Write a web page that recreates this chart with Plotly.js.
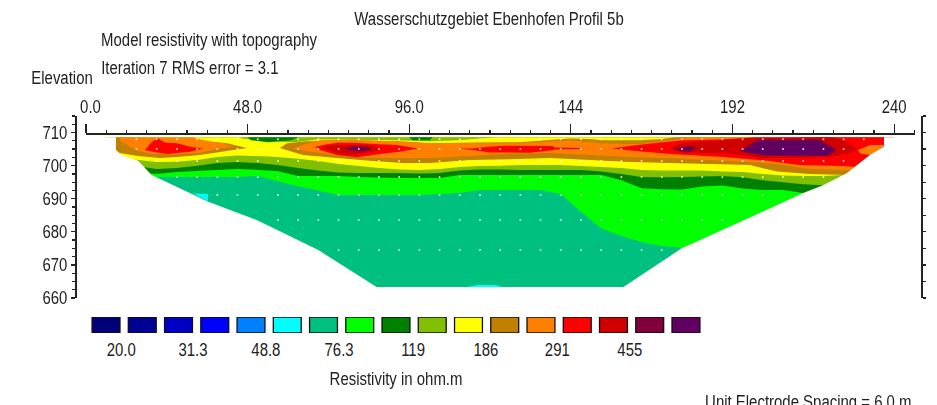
<!DOCTYPE html>
<html><head><meta charset="utf-8">
<script src="https://cdn.plot.ly/plotly-3.0.1.min.js"></script>
<style>html,body{margin:0;padding:0;background:#fff;overflow:hidden}#c{width:937px;height:405px}</style>
</head><body><div id="c"></div>
<script>
var FONT='"Liberation Sans",sans-serif';
var FSIZE=18;
// distance along the line (m)
var stationX=[6,9,15,21,27,33,39,45,51,57,63,69,75,81,87,93,99,105,111,117,123,129,135,141,147,153,159,165,171,177,183,189,195,201,207,213,219,225,231,237,240];
// elevation (m) of each resistivity boundary at those stations
var tealTop=[696.9,696.9,696.9,696.6,696.6,696.6,696.6,696.6,696.9,695.3,693.8,692.5,691.1,691.1,691.1,691.1,691.1,691.4,691.7,692.6,692.6,692.6,692.6,691.4,686.1,681.1,678.7,676.9,675.7,675.1,662.4,662.4,662.4,662.4,662.4,662.4,662.4,662.4,662.4,662.4,662.4];
var greenTop=[698.1,698.1,698.1,697.5,698.1,698.4,698.7,699,698.7,698.3,696.9,696.9,696.9,696.6,696.4,696.3,696.3,696.3,697.2,697.2,697.2,697.2,697.2,697.2,697.2,697.2,695.6,693.2,692.9,692.8,693.7,694,693.1,692.6,692.6,691.7,691.1,689.6,688.1,688.1,688.1];
var darkGreenTop=[700.2,700.2,699.9,699,699.3,700,700.8,701.1,700.8,700.2,699.3,698.5,697.9,697.8,697.8,697.8,697.6,697.8,698.5,698.8,698.8,698.7,698.7,698.7,698.7,698.2,697.5,696.6,696.5,696.6,696.7,696.9,696.5,695.6,695,694.4,694.1,692.6,691.1,689.6,689.6];
var oliveTop=[702.3,702.3,701.8,701.1,701.2,701.7,702.6,703.1,702.9,702.6,702.1,701.4,700.5,699.9,699.3,698.8,698.7,699,699.6,699.9,700,700.2,700.2,700.2,699.9,699.6,699.3,698.7,698.5,698.5,698.5,698.2,698.1,697.5,697,696.9,696.9,697.2,695.6,694.1,694.1];
// closed resistivity zones
var nearSurfaceOliveX=[46,63,88,110,122,110,102,93,69,62,54,46];
var nearSurfaceOliveY=[708.6,708.6,708.6,708.6,708.6,707.7,707.4,707.7,708,707.1,707.4,708.2];
var nearSurfaceDarkX=[48,63,61,54,49];
var nearSurfaceDarkY=[708.6,708.6,707.7,707.1,707.7];
var nearSurfaceDark2X=[96,103,102,97];
var nearSurfaceDark2Y=[708.6,708.6,707.7,707.7];
var brownWestX=[6,6,10.1,15.4,22,27,33.9,39.8,47.8,41.9,36.8,33,9];
var brownWestY=[708.6,703.8,703.8,702.9,702.3,702.6,703.2,704.1,705.3,706.8,707.2,708,708.6];
var orangeWestX=[10.1,31.8,34.7,39.8,43.7,39.8,33.9,27,19.9,15.4,13.1,10.1];
var orangeWestY=[708.6,708.6,707.7,706.9,705.7,705.2,703.9,703.5,703.5,704.4,705.6,707.7];
var redWestX=[17.5,19.6,21.4,23.5,27,30.9,34.7,30.9,24.1,19.9];
var redWestY=[704.7,707.2,708.3,706.9,706.8,705.7,705.2,704.2,703.5,704.2];
var brownMainX=[57.6,64.4,74.5,84.3,94.1,102.2,114,125.9,137.8,149.7,161.6,173.4,197.2,205.2,215,226,237.3,240,240,195.7,175,170.5,164.5,152.7,150.6,143.7,128.9,117,102.2,93.3,74.5,65.6,59.7];
var brownMainY=[705.3,703.2,702.3,701.5,700.8,700.8,701.7,701.9,702.3,701.7,701.1,700.8,700.2,698.2,697.5,697.2,697.2,697.2,708.6,708.6,708.6,708,707.7,707.7,708,708.2,707.1,707,706.8,707.4,707.7,707.4,706.8];
var orangeMainX=[61.2,66.5,74.5,84.3,94.1,102.2,114,125.9,137.8,149.7,161.6,173.4,185.3,197.2,205.2,215,226,237.3,240,240,179.4,173.4,164.5,152.7,143.7,128.9,117,102.2,79.3,69.5,64.4];
var orangeMainY=[705.2,704.2,703.2,702.4,702.3,702.3,702.9,703.7,703.8,703.2,702.6,702.3,701.7,701.1,700.5,699,698.7,698.7,698.7,708.6,708.5,707.7,706.5,706.8,707.6,706.8,706.8,706.8,707.9,707.7,706.2];
var redMidX=[68,70.4,74.5,79.3,87.3,92.4,98.6,93.3,87.3,80.5,74.5,69.5];
var redMidY=[705.6,706.2,706.9,706.9,706.5,706.2,705.2,704.2,703.5,702.5,703.2,704.7];
var darkRedMidX=[70.4,74.5,83.5,88.2,83.5,77.5,73.4];
var darkRedMidY=[705.6,706.2,706.2,705.2,703.9,703.2,704.2];
var maroonMidX=[76.9,79.3,83.5,84.9,82.3,78.4];
var maroonMidY=[705.2,705.9,705.7,705,704.3,704.5];
var purpleMidX=[78.4,80.8,82.9,80.8];
var purpleMidY=[705.2,705.5,705,704.6];
var redCentreX=[111.1,114.9,119.4,123.8,138.7,139,146.7,146.7,139,139,131.9,120,114.9,111.1];
var redCentreY=[705.2,705.2,705.7,706,705.9,705.5,705.3,705,704.9,704.7,703.9,704,704.7,705.1];
var redEastX=[156.2,162.5,170.5,177.3,188.3,194.2,198.7,240,240,229,224.8,212,202.3,189.2,173.4,162.5];
var redEastY=[705.2,706.1,707,707.7,707.9,708.3,708.6,708.6,697,699.6,699.9,700.2,701.5,702.6,703.5,704.5];
var orangeEastX=[229.3,232.9,240,240,232.9,229.9];
var orangeEastY=[704.7,706.2,706.2,705,703.2,703.7];
var darkRedEastX=[173.4,177.3,181.5,189.2,195.1,217.1,221.9,226,229,226.9,221.9,212,200.2,195.1,189.2,177.3];
var darkRedEastY=[705.5,706.8,707.2,707.7,708.2,708.6,708.6,707.2,704.7,703.8,702.7,702.3,702.3,703.2,703.8,703.9];
var maroonEastX=[194.2,199.3,218,223,220.4,201.7];
var maroonEastY=[704.3,707.9,707.9,704.7,702.9,702.9];
var maroonSmallX=[174.3,179.4,181.5,179.4,175.5];
var maroonSmallY=[705,705.9,705.3,704.1,704.4];
var purpleEastX=[195.1,200.2,217.1,222.5,220.1,202.3];
var purpleEastY=[704.2,707.7,707.7,704.7,703.2,703.2];
var purpleSmallX=[176.4,178.2,180.3,178.2];
var purpleSmallY=[705.2,705.7,705.3,704.6];
var cyanWestX=[31.8,36.2,36.2,33.9];
var cyanWestY=[691.6,691.4,689.3,690.5];
var cyanBottomX=[113.2,116.1,121.5,123.8];
var cyanBottomY=[663.3,663.9,663.9,663.3];
// outline of the modelled section
var sectionX=[5,8.9,8.9,10.6,15.5,19.5,36.3,50.7,69,86.3,159.6,176.9,182.4,213,218.9,225.9,232.8,237,237,241,241,5];
var sectionY=[708.6,708.6,704.7,703.2,701.5,697.2,689.1,683.6,674.5,663.3,663.3,675,677.5,691.7,694.1,697.7,703.2,705.7,708.6,708.6,660.3,660.3];
// model block centres
var blockX=[9,15,21,27,33,39,45,51,57,63,69,75,81,87,93,99,105,111,117,123,129,135,141,147,153,159,165,171,177,183,189,195,201,207,213,219,225,231];
var blockRowElev=[708,705,701.4,696.6,691.1,683.6,674.5];
var blockRowFirst=[15,15,21,27,39,57,75];
var blockRowLast=[231,225,225,219,201,189,171];
// colour scale
var legendIndex=[0,1,2,3,4,5,6,7,8,9,10,11,12,13,14,15,16];
var legendColors=['#00007a','#000094','#0000c4','#0000ff','#0080ff','#00ffff','#00c080','#00ff00','#008000','#80c000','#ffff00','#c08000','#ff8000','#ff0000','#d00000','#80003c','#600060'];
var legendLabelPos=[0.42,2.4,4.41,6.43,8.47,10.48,12.45,14.45];
var legendLabels=['20.0','31.3','48.8','76.3','119','186','291','455'];
// axis ticks
var xTickVals=[0,48,96,144,192,240];
var xTickText=['0.0','48.0','96.0','144','192','240'];
var yTickVals=[660,670,680,690,700,710];
var surfaceElev=708.6;

var C={teal:'#00c080',green:'#00ff00',dark:'#008000',olive:'#80c000',yellow:'#ffff00',brown:'#c08000',orange:'#ff8000',red:'#ff0000',dred:'#d00000',maroon:'#80003c',purple:'#600060',cyan:'#00ffff'};
function poly(x,y,color){return {type:'scatter',mode:'none',fill:'toself',fillcolor:color,x:x,y:y,hoverinfo:'skip',showlegend:false};}
function band(elev,color){
  return poly(stationX.concat([240,6]),elev.concat([surfaceElev,surfaceElev]),color);
}
var traces=[
  poly([6,240,240,6],[662,662,surfaceElev,surfaceElev],C.teal),
  band(tealTop,C.green),
  band(greenTop,C.dark),
  band(darkGreenTop,C.olive),
  band(oliveTop,C.yellow),
  poly(nearSurfaceOliveX,nearSurfaceOliveY,C.olive),
  poly(nearSurfaceDarkX,nearSurfaceDarkY,C.dark),
  poly(nearSurfaceDark2X,nearSurfaceDark2Y,C.dark),
  poly(brownWestX,brownWestY,C.brown),
  poly(orangeWestX,orangeWestY,C.orange),
  poly(redWestX,redWestY,C.red),
  poly(brownMainX,brownMainY,C.brown),
  poly(orangeMainX,orangeMainY,C.orange),
  poly(redMidX,redMidY,C.red),
  poly(darkRedMidX,darkRedMidY,C.dred),
  poly(maroonMidX,maroonMidY,C.maroon),
  poly(purpleMidX,purpleMidY,C.purple),
  poly(redCentreX,redCentreY,C.red),
  poly(redEastX,redEastY,C.red),
  poly(orangeEastX,orangeEastY,C.orange),
  poly(darkRedEastX,darkRedEastY,C.dred),
  poly(maroonEastX,maroonEastY,C.maroon),
  poly(maroonSmallX,maroonSmallY,C.maroon),
  poly(purpleEastX,purpleEastY,C.purple),
  poly(purpleSmallX,purpleSmallY,C.purple),
  poly(cyanWestX,cyanWestY,C.cyan),
  poly(cyanBottomX,cyanBottomY,C.cyan),
  poly(sectionX,sectionY,'#ffffff')
];
var dotX=[],dotY=[];
blockRowElev.forEach(function(e,r){
  blockX.forEach(function(x){
    if(x>=blockRowFirst[r]&&x<=blockRowLast[r]){dotX.push(x);dotY.push(e);}
  });
});
traces.push({type:'scatter',mode:'markers',x:dotX,y:dotY,marker:{color:'#ffffff',size:2},opacity:0.8,hoverinfo:'skip',showlegend:false});
// right-hand elevation axis carrier
traces.push({type:'scatter',mode:'markers',x:[0],y:[660],xaxis:'x',yaxis:'y3',marker:{opacity:0,size:1},hoverinfo:'skip',showlegend:false});
// colour scale swatches
traces.push({type:'bar',x:legendIndex,y:legendIndex.map(function(){return 1;}),xaxis:'x2',yaxis:'y2',width:0.77,
  marker:{color:legendColors,line:{color:'#111',width:1.3}},hoverinfo:'skip',showlegend:false});

function note(text,px,py){
  return {text:text,xref:'paper',yref:'paper',x:(px-75)/846,y:(400-py)/284,xanchor:'center',yanchor:'middle',showarrow:false,font:{family:FONT,size:FSIZE,color:'#222'}};
}
var tf={family:FONT,size:FSIZE,color:'#222'};
var layout={
  width:937,height:405,paper_bgcolor:'#fff',plot_bgcolor:'#fff',showlegend:false,
  margin:{l:75,r:16,t:116,b:5,pad:0},
  font:tf,
  title:{text:'Wasserschutzgebiet Ebenhofen Profil 5b',xref:'container',yref:'container',x:489/937,y:1-19/405,xanchor:'center',yanchor:'middle',font:tf},
  xaxis:{domain:[0.0130,0.9929],range:[0,246.2],side:'top',anchor:'free',position:0.9401,showgrid:false,zeroline:false,
    showline:true,linecolor:'#222',linewidth:1.5,ticks:'outside',ticklen:9,tickwidth:1.2,tickcolor:'#222',
    tickmode:'array',tickvals:xTickVals,ticktext:xTickText,ticklabelstandoff:4,tickfont:tf,
    minor:{ticks:'outside',ticklen:3,dtick:6,tick0:0,tickwidth:1.2,tickcolor:'#222',showgrid:false}},
  yaxis:{domain:[0.35915,1],range:[660,715],anchor:'free',position:0,showgrid:false,zeroline:false,
    showline:true,linecolor:'#222',linewidth:1.5,ticks:'outside',ticklen:4,tickwidth:1.2,tickcolor:'#222',
    tickmode:'array',tickvals:yTickVals,tickfont:tf,
    minor:{ticks:'outside',ticklen:3,dtick:2.5,tick0:660,tickwidth:1.2,tickcolor:'#222',showgrid:false}},
  yaxis3:{domain:[0.35915,1],range:[660,715],overlaying:'y',side:'right',anchor:'free',position:1,showgrid:false,zeroline:false,
    showline:true,linecolor:'#222',linewidth:1.5,ticks:'outside',ticklen:3.5,tickwidth:1.2,tickcolor:'#222',dtick:5,tick0:660,showticklabels:false},
  xaxis2:{domain:[0.01525,0.7436],range:[-0.5,16.5],anchor:'y2',showgrid:false,zeroline:false,showline:false,ticks:'',
    tickmode:'array',tickvals:legendLabelPos,ticktext:legendLabels,ticklabelstandoff:4,tickfont:tf},
  yaxis2:{domain:[0.2359,0.2923],range:[0,1],anchor:'x2',showgrid:false,zeroline:false,showline:false,ticks:'',showticklabels:false},
  annotations:[
    note('Model resistivity with topography',209,40),
    note('Iteration 7 RMS error = 3.1',189.5,68),
    note('Elevation',61.5,78),
    note('Resistivity in ohm.m',396,379),
    note('Unit Electrode Spacing = 6.0 m',808.5,402)
  ]
};
Plotly.newPlot('c',traces,layout,{displayModeBar:false,responsive:false,staticPlot:true}).then(function(gd){
  // the original lettering is tall and condensed
  gd.querySelectorAll('.xtick text,.x2tick text,.ytick text,.annotation-text,.gtitle').forEach(function(t){
    var n=t.getComputedTextLength();
    t.setAttribute('textLength',(n*0.83).toFixed(1));
    t.setAttribute('lengthAdjust','spacingAndGlyphs');
    if(t.textContent==='0.0'&&t.closest('.xtick')){t.setAttribute('dx','4.5');}
  });
});
</script></body></html>
